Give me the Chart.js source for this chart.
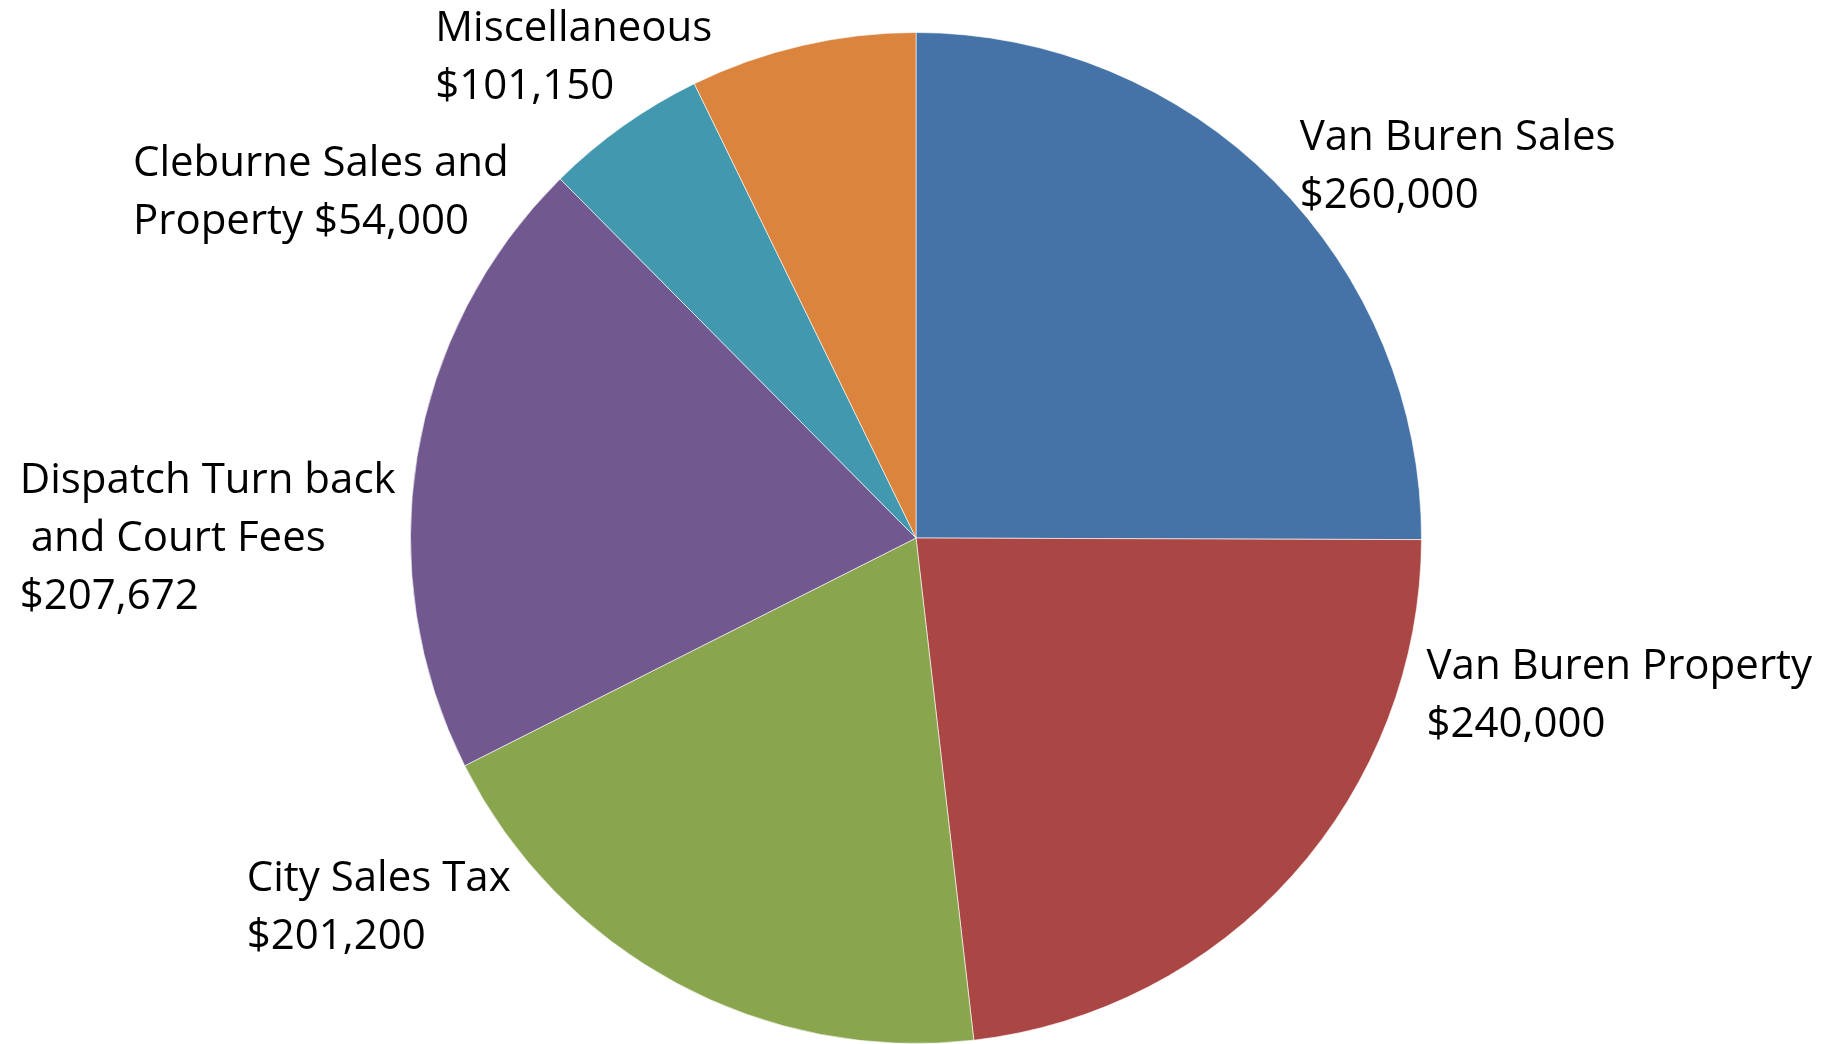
<!DOCTYPE html>
<html>
<head>
<meta charset="utf-8">
<script src="https://cdn.jsdelivr.net/npm/chart.js@4.4.1/dist/chart.umd.min.js"></script>
<style>
  html, body { margin: 0; padding: 0; background: #fff; }
  #wrap { width: 1832px; height: 1044px; }
</style>
</head>
<body>
<div id="wrap"><canvas id="revenue-chart" width="1832" height="1044"></canvas></div>
<script>
// slices, clockwise from 12 o'clock
var categories = ["Van Buren Sales", "Van Buren Property", "City Sales Tax",
  "Dispatch Turn back and Court Fees", "Cleburne Sales and Property", "Miscellaneous"];
// slice sizes as drawn (the Miscellaneous wedge is drawn at ~75,000 although labelled $101,150)
var values = [260000, 240000, 201200, 207672, 54000, 75000];
var amounts = ["$260,000", "$240,000", "$201,200", "$207,672", "$54,000", "$101,150"];
// how each label breaks into lines
var labelLines = [
  ["Van Buren Sales", "$260,000"],
  ["Van Buren Property", "$240,000"],
  ["City Sales Tax", "$201,200"],
  ["Dispatch Turn back", " and Court Fees", "$207,672"],
  ["Cleburne Sales and", "Property $54,000"],
  ["Miscellaneous", "$101,150"]
];
var colors = ["#4572A7", "#AA4643", "#89A54E", "#71588F", "#4198AF", "#DB843D"];

// label placement relative to the pie centre, in units of the radius (left edge, first baseline)
var labelPos = [
  [0.759, -0.767],
  [1.010, 0.279],
  [-1.324, 0.698],
  [-1.773, -0.089],
  [-1.549, -0.717],
  [-0.951, -0.984]
];

var sliceLabels = {
  id: 'sliceLabels',
  afterDatasetsDraw: function(chart) {
    var ctx = chart.ctx;
    var arcs = chart.getDatasetMeta(0).data;
    if (!arcs.length) return;
    var cx = arcs[0].x, cy = arcs[0].y, r = arcs[0].outerRadius;
    ctx.save();
    ctx.fillStyle = "#000";
    ctx.font = "42px 'Open Sans'";
    ctx.textAlign = "left";
    ctx.textBaseline = "alphabetic";
    labelLines.forEach(function(lines, i) {
      var x = cx + labelPos[i][0] * r;
      var y = cy + labelPos[i][1] * r;
      lines.forEach(function(line, j) {
        ctx.fillText(line, x, y + j * 58);
      });
    });
    ctx.restore();
  }
};

var ctx = document.getElementById("revenue-chart").getContext("2d");
new Chart(ctx, {
  type: "pie",
  data: {
    labels: categories,
    datasets: [{
      data: values,
      backgroundColor: colors,
      borderColor: "rgba(255,255,255,0.6)",
      borderWidth: 1
    }]
  },
  options: {
    responsive: false,
    devicePixelRatio: 1,
    animation: false,
    layout: {
      padding: { top: 32, bottom: 0, left: 0, right: 0 }
    },
    plugins: {
      legend: { display: false },
      tooltip: { enabled: false }
    }
  },
  plugins: [sliceLabels]
});
</script>
</body>
</html>
